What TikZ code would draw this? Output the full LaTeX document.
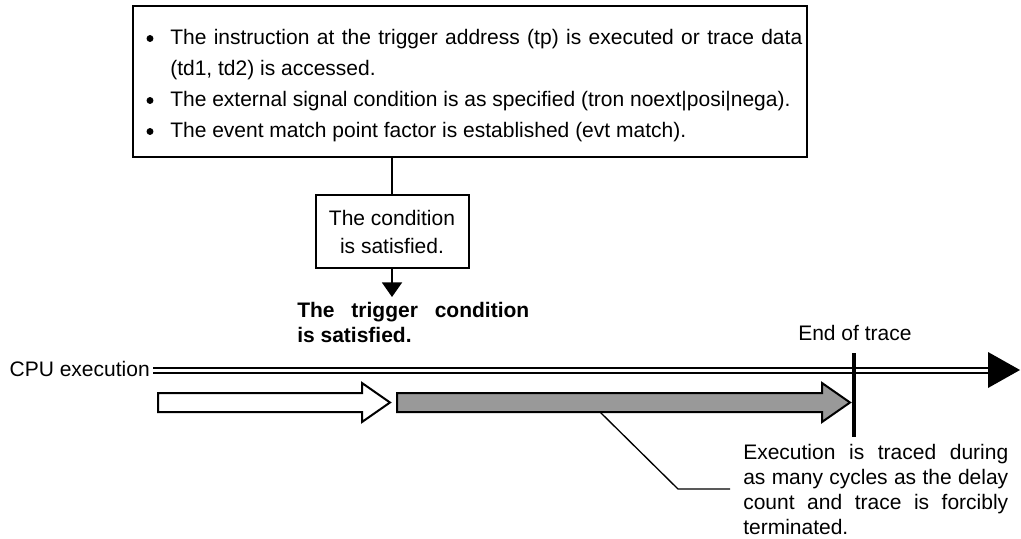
\documentclass[tikz,border=0pt]{standalone}
\usepackage{fontspec}
\setmainfont{Liberation Sans}
\usetikzlibrary{arrows.meta}
\definecolor{arrgray}{gray}{0.6}
\newcommand\diafont{\fontsize{15.75}{18.75}\selectfont}
\begin{document}
\begin{tikzpicture}[x=0.75pt,y=-0.75pt,line join=miter,
  txt/.style={inner sep=0pt,font=\diafont},
  frame/.style={draw,line width=1.5pt,inner sep=0pt},
  bul/.style={circle,fill,inner sep=0pt,minimum size=5.2pt},
  conn/.style={line width=1.5pt},
  outl/.style={line width=1.5pt}]
\useasboundingbox (0,0) rectangle (1021,539);
% top box
\node[frame,minimum width=505.5pt,minimum height=113.25pt] (top) at (470,81.5) {};
\node[bul] (b1) at (150,38.5) {};
\node[txt,anchor=base west] (l1) at (170,44) {\makebox[474pt][s]{The instruction at the trigger address (tp) is executed or trace data}};
\node[txt,anchor=base west] (l2) at (170,75) {(td1, td2) is accessed.};
\node[bul] (b2) at (150,100.5) {};
\node[txt,anchor=base west] (l3) at (170,106) {The external signal condition is as specified (tron noext|posi|nega).};
\node[bul] (b3) at (150,131.5) {};
\node[txt,anchor=base west] (l4) at (170,137) {The event match point factor is established (evt match).};
% small box
\node[frame,font=\fontsize{15.75}{21}\selectfont,align=center,minimum width=114.75pt,minimum height=54.75pt] (sb) at (392,231.5) {The condition\\is satisfied.};
\draw[conn] (sb.north) -- (sb.north |- top.south);
\coordinate (trig) at (392,297);
\draw[conn,-{Triangle[length=11pt,width=15pt]}] (sb.south) -- (trig);
\node[txt,anchor=base west,font=\diafont\bfseries] (tc1) at (297,317) {\makebox[174pt][s]{The trigger condition}};
\node[txt,anchor=base west,font=\diafont\bfseries] (tc2) at (297,342) {is satisfied.};
% time line
\node[txt,anchor=base west] (eot) at (798,340) {End of trace};
\node[txt,anchor=base east] (cpu) at (150,376) {CPU execution};
\coordinate (ahbase) at (988,370);
\draw[line width=1.5pt,double,double distance=2.25pt] (cpu.east |- ahbase) ++(3,0) -- (ahbase);
\fill (988,352) -- (1020,370) -- (988,388) -- cycle;
\coordinate (eotT) at (854,353);
\coordinate (eotB) at (854,437);
\draw[line width=2.5pt] (eotT) -- (eotB);
% white arrow
\draw[outl,fill=white] (158,393) -- (362,393) -- (362,383) -- (390,402.5) -- (362,422) -- (362,412) -- (158,412) -- cycle;
% gray arrow
\draw[outl,fill=arrgray] (397,393) -- (822,393) -- (822,383) -- (850,402.5) -- (822,422) -- (822,412) -- (397,412) -- cycle;
\coordinate (gp) at (600,412);
% explanation
\node[txt,anchor=west,align=left] (exec) at (743,489) {\makebox[198.75pt][s]{Execution is traced during}\\\makebox[198.75pt][s]{as many cycles as the delay}\\\makebox[198.75pt][s]{count and trace is forcibly}\\terminated.};
\coordinate (elbow) at (678,489);
\draw[line width=1pt] (gp) -- (elbow) -- ([xshift=-9.75pt]exec.west);
\end{tikzpicture}
\end{document}
